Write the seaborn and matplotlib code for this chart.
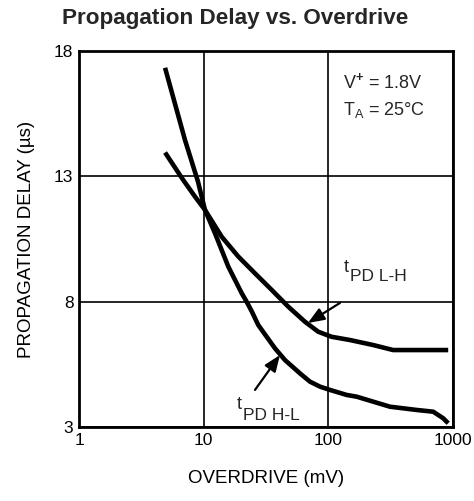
import matplotlib
matplotlib.use("Agg")
import matplotlib.pyplot as plt
import seaborn as sns
import pandas as pd

# ---- data ----
lh_overdrive = [4.9, 6.86, 8.52, 10.24, 13.95, 18.95, 25.8, 35.1, 47.7, 64.9, 83.0, 106, 149, 229, 331, 500, 915]
lh_delay = [13.95, 12.85, 12.19, 11.66, 10.59, 9.80, 9.13, 8.47, 7.80, 7.20, 6.80, 6.60, 6.47, 6.27, 6.07, 6.07, 6.07]

hl_overdrive = [4.9, 7.08, 9.0, 10.24, 12.32, 15.75, 20.17, 22.1, 24.26, 27.4, 32.0, 37.3, 44.9, 59.2, 71.2, 85.7, 103, 140, 168.6, 312, 511, 694, 834, 915]
hl_delay = [17.33, 14.45, 12.79, 11.66, 10.73, 9.40, 8.34, 8.0, 7.62, 7.07, 6.60, 6.14, 5.67, 5.14, 4.81, 4.61, 4.48, 4.28, 4.21, 3.81, 3.68, 3.61, 3.35, 3.15]

x_ticks = [1, 10, 100, 1000]
x_tick_labels = ["1", "10", "100", "1000"]
y_ticks = [3, 8, 13, 18]
y_tick_labels = ["3", "8", "13", "18"]

title = "Propagation Delay vs. Overdrive"
x_label = "OVERDRIVE (mV)"
y_label = "PROPAGATION DELAY (µs)"

sns.set_theme(style="white")
plt.rcParams["font.family"] = ["Liberation Sans", "DejaVu Sans"]
plt.rcParams["mathtext.fontset"] = "custom"
plt.rcParams["mathtext.rm"] = "Liberation Sans"
plt.rcParams["mathtext.it"] = "Liberation Sans"
plt.rcParams["mathtext.bf"] = "Liberation Sans:bold"

df_lh = pd.DataFrame({"x": lh_overdrive, "y": lh_delay})
df_hl = pd.DataFrame({"x": hl_overdrive, "y": hl_delay})

fig = plt.figure(figsize=(4.74, 5.01), dpi=100)
ax = fig.add_axes([0.1667, 0.1477, 0.789, 0.7505])

line_kw = dict(color="black", lw=3.3, estimator=None, sort=False)
sns.lineplot(data=df_lh, x="x", y="y", ax=ax, **line_kw)
sns.lineplot(data=df_hl, x="x", y="y", ax=ax, **line_kw)
for ln in ax.lines:
    ln.set_solid_joinstyle("round")
    ln.set_solid_capstyle("butt")

ax.set_xscale("log")
ax.set_xlim(1, 1000)
ax.set_ylim(3, 18)
ax.set_xticks(x_ticks)
ax.set_xticklabels(x_tick_labels)
ax.set_yticks(y_ticks)
ax.set_yticklabels(y_tick_labels)
ax.minorticks_off()
ax.tick_params(axis="both", length=0, labelsize=12.5, colors="black", pad=4)
ax.grid(True, color="black", lw=1.2)
for s in ax.spines.values():
    s.set_color("black")
    s.set_linewidth(2)

ax.set_xlabel(x_label, fontsize=13.5, labelpad=16, color="black")
ax.set_ylabel(y_label, fontsize=13.5, labelpad=14, color="black")
fig.suptitle(title, fontsize=16.2, fontweight="bold", x=0.497, y=0.985)

# condition text
ax.text(0.706, 0.902, r"V$^{\mathbf{+}}$ = 1.8V", transform=ax.transAxes, fontsize=13, va="baseline", ha="left")
ax.text(0.706, 0.83, r"T$_{\mathregular{A}}$ = 25°C", transform=ax.transAxes, fontsize=13, va="baseline", ha="left")

arrow_style = dict(arrowstyle="-|>,head_length=0.7,head_width=0.28", color="black", lw=1.6,
                   mutation_scale=14, shrinkA=0, shrinkB=0)

# curve labels
ax.text(133, 9.03, "t", fontsize=13, va="bottom", ha="left")
ax.text(149, 8.71, "PD L-H", fontsize=12.5, va="bottom", ha="left")
ax.annotate("", xy=(68.6, 7.15), xytext=(124, 7.95), arrowprops=arrow_style)

ax.text(18.5, 3.56, "t", fontsize=13, va="bottom", ha="left")
ax.text(20.7, 3.16, "PD H-L", fontsize=12.5, va="bottom", ha="left")
ax.annotate("", xy=(40.9, 5.87), xytext=(25.8, 4.48), arrowprops=arrow_style)

fig.savefig("out.png", dpi=100)
